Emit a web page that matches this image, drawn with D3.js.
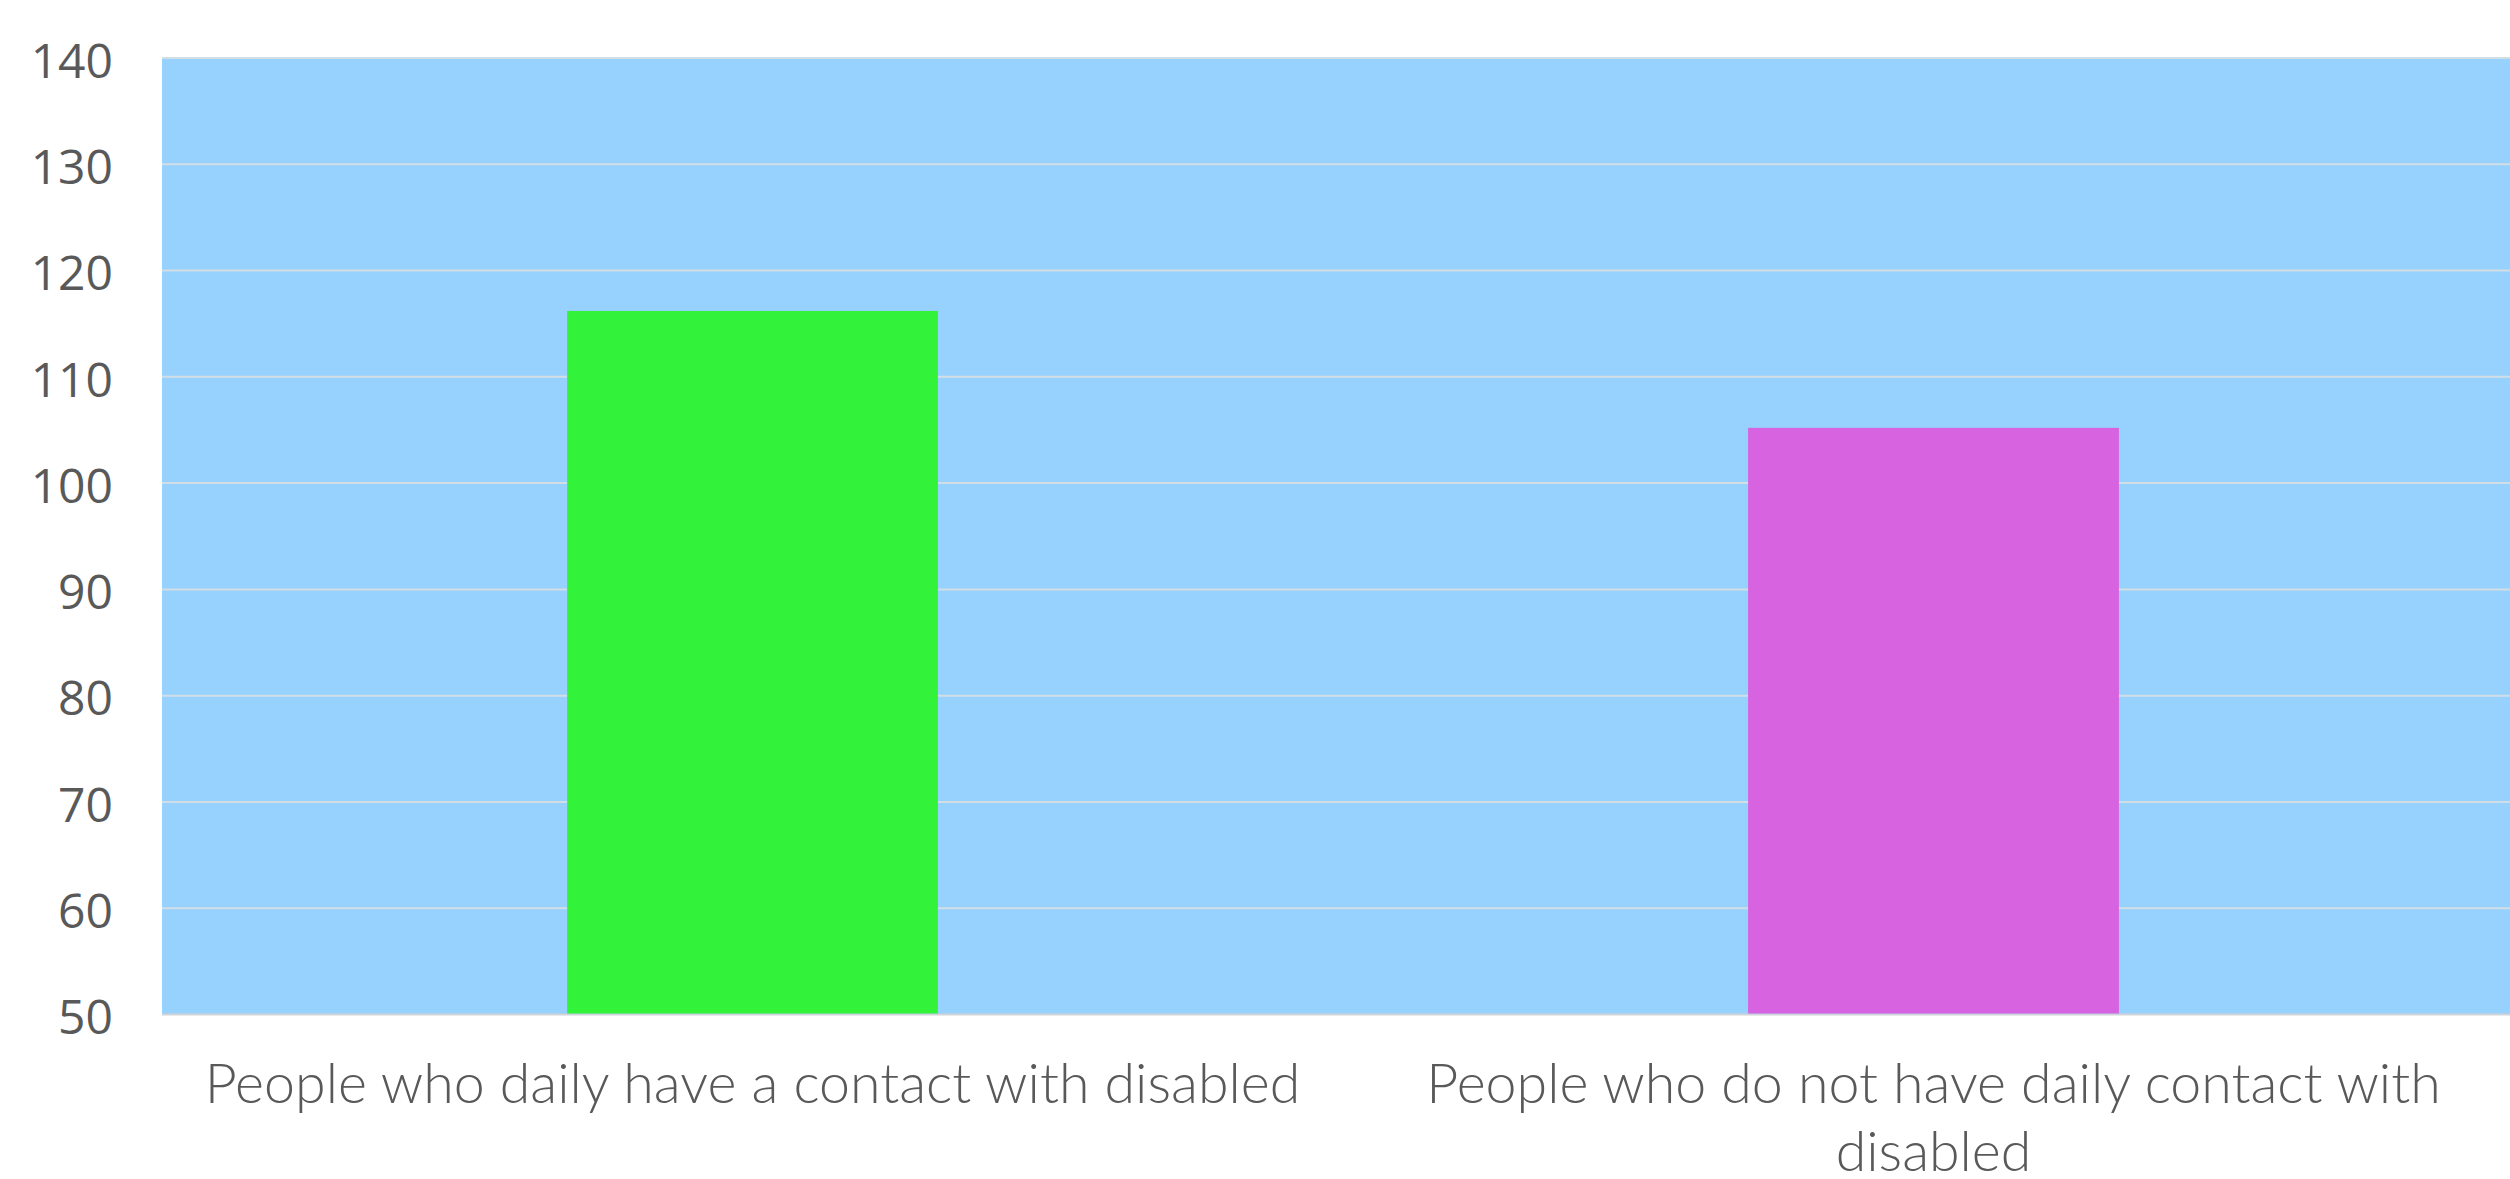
<!DOCTYPE html>
<html>
<head>
<meta charset="utf-8">
<script src="https://cdn.jsdelivr.net/npm/d3@7"></script>
<style>
  html, body { margin: 0; padding: 0; background: #fff; overflow: hidden; }
  .tick-label { font-family: "Open Sans", sans-serif; font-size: 48px; fill: #595959; }
  .cat-label { font-family: "Lato", sans-serif; font-weight: 300; font-size: 55.5px; fill: #595959; }
</style>
</head>
<body>
<svg class="chart"></svg>
<script>
// data
var categories = ["People who daily have a contact with disabled",
                  "People who do not have daily contact with disabled"];
var values = [116.2, 105.2];
var barColors = ["#33F23A", "#D763E0"];
var yTicks = [50, 60, 70, 80, 90, 100, 110, 120, 130, 140];

var W = 2510, H = 1179;
var margin = { top: 58, left: 162, bottom: 165 };
var plotW = 2362;

function drawChart() {
  var svg = d3.select(".chart");
  svg.attr("width", W).attr("height", H);
  var g = svg.append("g").attr("transform", "translate(" + margin.left + "," + margin.top + ")");
  var plotH = H - margin.top - margin.bottom;

  var x = d3.scaleBand()
    .domain(categories)
    .range([0, plotW])
    .paddingInner(0)
    .paddingOuter(0);
  var y = d3.scaleLinear()
    .domain([50, 140])
    .range([plotH + 0.5, 0]);

  // background
  g.append("rect")
    .attr("x", 0).attr("y", 0)
    .attr("width", plotW).attr("height", plotH)
    .style("fill", "#97D1FD");

  // gridlines
  g.selectAll(".grid")
    .data(yTicks)
    .enter()
    .append("line")
    .attr("class", "grid")
    .attr("x1", 0).attr("x2", plotW)
    .attr("y1", function(d) { return y(d); })
    .attr("y2", function(d) { return y(d); })
    .style("stroke", function(d) { return d == 50 ? "#D0D4D8" : "#D2DEE6"; })
    .style("stroke-width", 2);

  // bars
  var barW = x.bandwidth() * 0.314;
  g.selectAll(".bar")
    .data(values)
    .enter()
    .append("rect")
    .attr("class", "bar")
    .attr("x", function(d, i) { return x(categories[i]) + (x.bandwidth() - barW) / 2; })
    .attr("y", function(d) { return y(d); })
    .attr("width", barW)
    .attr("height", function(d) { return y(50) - y(d) - 1; })
    .style("fill", function(d, i) { return barColors[i]; });

  // y axis labels
  var yAxis = d3.axisLeft(y).tickValues(yTicks).tickSize(0).tickPadding(49);
  var ya = g.append("g").call(yAxis);
  ya.select(".domain").remove();
  ya.selectAll("text")
    .attr("class", "tick-label")
    .attr("font-size", null).attr("font-family", null)
    .attr("dy", "0.4em");

  // category labels, wrapped to band width
  g.selectAll(".cat-label")
    .data(categories)
    .enter()
    .append("text")
    .attr("class", "cat-label")
    .attr("text-anchor", "middle")
    .attr("x", function(d) { return x(d) + x.bandwidth() / 2; })
    .attr("y", plotH + 89)
    .each(function(d) { wrap(d3.select(this), d, x.bandwidth() - 60); });
}

function wrap(text, str, width) {
  var words = str.split(" ");
  var line = [];
  var cx = text.attr("x");
  var tspan = text.append("tspan").attr("x", cx).attr("dy", 0);
  words.forEach(function(w) {
    line.push(w);
    tspan.text(line.join(" "));
    if (tspan.node().getComputedTextLength() > width && line.length > 1) {
      line.pop();
      tspan.text(line.join(" "));
      line = [w];
      tspan = text.append("tspan").attr("x", cx).attr("dy", 68).text(w);
    }
  });
}

drawChart();
</script>
</body>
</html>
